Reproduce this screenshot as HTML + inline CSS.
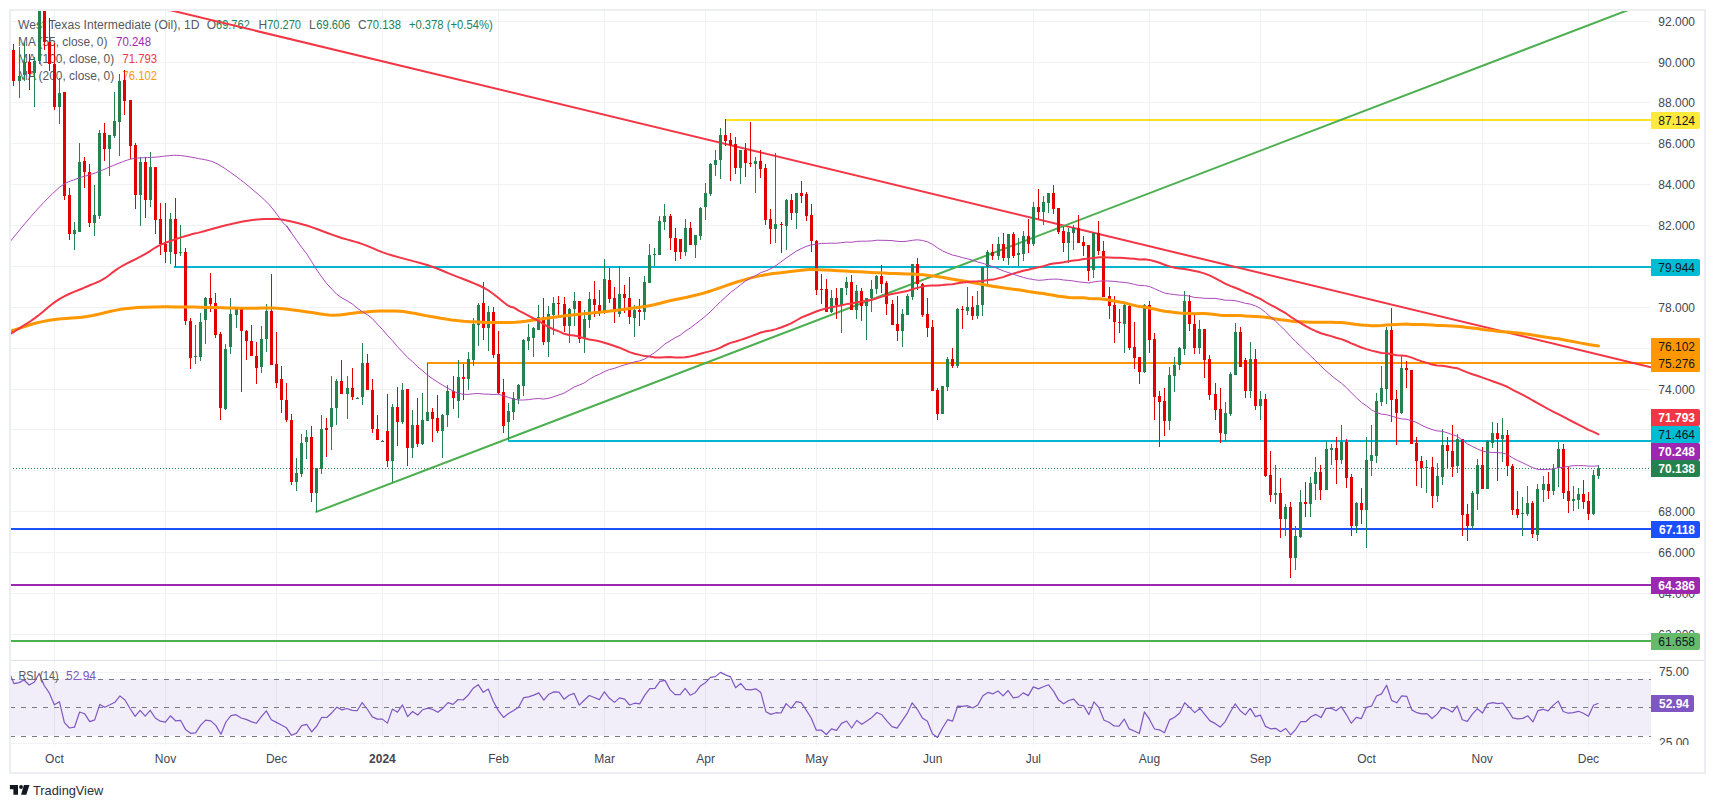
<!DOCTYPE html><html><head><meta charset="utf-8"><style>html,body{margin:0;padding:0;background:#fff;width:1715px;height:808px;overflow:hidden}</style></head><body><svg width="1715" height="808" viewBox="0 0 1715 808" style="display:block;font-family:'Liberation Sans', sans-serif"><rect width="1715" height="808" fill="#ffffff"/><defs><clipPath id="cp"><rect x="11" y="11" width="1640" height="649"/></clipPath><clipPath id="cr"><rect x="11" y="661" width="1640" height="84"/></clipPath></defs><line x1="11" y1="634.5" x2="1651" y2="634.5" stroke="#f1f2f3" stroke-width="1"/><line x1="11" y1="593.5" x2="1651" y2="593.5" stroke="#f1f2f3" stroke-width="1"/><line x1="11" y1="552.5" x2="1651" y2="552.5" stroke="#f1f2f3" stroke-width="1"/><line x1="11" y1="511.5" x2="1651" y2="511.5" stroke="#f1f2f3" stroke-width="1"/><line x1="11" y1="470.5" x2="1651" y2="470.5" stroke="#f1f2f3" stroke-width="1"/><line x1="11" y1="429.5" x2="1651" y2="429.5" stroke="#f1f2f3" stroke-width="1"/><line x1="11" y1="389.5" x2="1651" y2="389.5" stroke="#f1f2f3" stroke-width="1"/><line x1="11" y1="348.5" x2="1651" y2="348.5" stroke="#f1f2f3" stroke-width="1"/><line x1="11" y1="307.5" x2="1651" y2="307.5" stroke="#f1f2f3" stroke-width="1"/><line x1="11" y1="266.5" x2="1651" y2="266.5" stroke="#f1f2f3" stroke-width="1"/><line x1="11" y1="225.5" x2="1651" y2="225.5" stroke="#f1f2f3" stroke-width="1"/><line x1="11" y1="184.5" x2="1651" y2="184.5" stroke="#f1f2f3" stroke-width="1"/><line x1="11" y1="143.5" x2="1651" y2="143.5" stroke="#f1f2f3" stroke-width="1"/><line x1="11" y1="102.5" x2="1651" y2="102.5" stroke="#f1f2f3" stroke-width="1"/><line x1="11" y1="62.5" x2="1651" y2="62.5" stroke="#f1f2f3" stroke-width="1"/><line x1="11" y1="21.5" x2="1651" y2="21.5" stroke="#f1f2f3" stroke-width="1"/><line x1="54.5" y1="11" x2="54.5" y2="745" stroke="#f1f2f3" stroke-width="1"/><line x1="165.5" y1="11" x2="165.5" y2="745" stroke="#f1f2f3" stroke-width="1"/><line x1="276.5" y1="11" x2="276.5" y2="745" stroke="#f1f2f3" stroke-width="1"/><line x1="382.5" y1="11" x2="382.5" y2="745" stroke="#f1f2f3" stroke-width="1"/><line x1="498.5" y1="11" x2="498.5" y2="745" stroke="#f1f2f3" stroke-width="1"/><line x1="604.5" y1="11" x2="604.5" y2="745" stroke="#f1f2f3" stroke-width="1"/><line x1="705.5" y1="11" x2="705.5" y2="745" stroke="#f1f2f3" stroke-width="1"/><line x1="816.5" y1="11" x2="816.5" y2="745" stroke="#f1f2f3" stroke-width="1"/><line x1="932.5" y1="11" x2="932.5" y2="745" stroke="#f1f2f3" stroke-width="1"/><line x1="1033.5" y1="11" x2="1033.5" y2="745" stroke="#f1f2f3" stroke-width="1"/><line x1="1149.5" y1="11" x2="1149.5" y2="745" stroke="#f1f2f3" stroke-width="1"/><line x1="1260.5" y1="11" x2="1260.5" y2="745" stroke="#f1f2f3" stroke-width="1"/><line x1="1366.5" y1="11" x2="1366.5" y2="745" stroke="#f1f2f3" stroke-width="1"/><line x1="1482.5" y1="11" x2="1482.5" y2="745" stroke="#f1f2f3" stroke-width="1"/><line x1="1588.5" y1="11" x2="1588.5" y2="745" stroke="#f1f2f3" stroke-width="1"/><line x1="11" y1="672.5" x2="1651" y2="672.5" stroke="#f1f2f3" stroke-width="1"/><line x1="11" y1="743.5" x2="1651" y2="743.5" stroke="#f1f2f3" stroke-width="1"/><rect x="11" y="679.0" width="1640" height="56.8" fill="#7e57c2" fill-opacity="0.1"/><line x1="10" y1="679.5" x2="1651" y2="679.5" stroke="#787b86" stroke-width="1" stroke-dasharray="5,6"/><line x1="10" y1="707.5" x2="1651" y2="707.5" stroke="#787b86" stroke-width="1" stroke-dasharray="5,6"/><line x1="10" y1="736.5" x2="1651" y2="736.5" stroke="#787b86" stroke-width="1" stroke-dasharray="5,6"/><line x1="10" y1="660.5" x2="1705" y2="660.5" stroke="#e0e3eb" stroke-width="1"/><rect x="10" y="10" width="1695" height="763" fill="none" stroke="#eceef3" stroke-width="2"/><text x="54.4" y="763" font-size="12" fill="#434651" text-anchor="middle" font-weight="normal">Oct</text><text x="165.5" y="763" font-size="12" fill="#434651" text-anchor="middle" font-weight="normal">Nov</text><text x="276.6" y="763" font-size="12" fill="#434651" text-anchor="middle" font-weight="normal">Dec</text><text x="382.4" y="763" font-size="12" fill="#434651" text-anchor="middle" font-weight="bold">2024</text><text x="498.5" y="763" font-size="12" fill="#434651" text-anchor="middle" font-weight="normal">Feb</text><text x="604.6" y="763" font-size="12" fill="#434651" text-anchor="middle" font-weight="normal">Mar</text><text x="705.6" y="763" font-size="12" fill="#434651" text-anchor="middle" font-weight="normal">Apr</text><text x="816.7" y="763" font-size="12" fill="#434651" text-anchor="middle" font-weight="normal">May</text><text x="932.8" y="763" font-size="12" fill="#434651" text-anchor="middle" font-weight="normal">Jun</text><text x="1033.3" y="763" font-size="12" fill="#434651" text-anchor="middle" font-weight="normal">Jul</text><text x="1149.4" y="763" font-size="12" fill="#434651" text-anchor="middle" font-weight="normal">Aug</text><text x="1260.5" y="763" font-size="12" fill="#434651" text-anchor="middle" font-weight="normal">Sep</text><text x="1366.5" y="763" font-size="12" fill="#434651" text-anchor="middle" font-weight="normal">Oct</text><text x="1482.2" y="763" font-size="12" fill="#434651" text-anchor="middle" font-weight="normal">Nov</text><text x="1588.4" y="763" font-size="12" fill="#434651" text-anchor="middle" font-weight="normal">Dec</text><text x="1695" y="638.5" font-size="12" fill="#434651" text-anchor="end">62.000</text><text x="1695" y="597.5" font-size="12" fill="#434651" text-anchor="end">64.000</text><text x="1695" y="556.5" font-size="12" fill="#434651" text-anchor="end">66.000</text><text x="1695" y="515.5" font-size="12" fill="#434651" text-anchor="end">68.000</text><text x="1695" y="393.5" font-size="12" fill="#434651" text-anchor="end">74.000</text><text x="1695" y="311.5" font-size="12" fill="#434651" text-anchor="end">78.000</text><text x="1695" y="229.5" font-size="12" fill="#434651" text-anchor="end">82.000</text><text x="1695" y="188.5" font-size="12" fill="#434651" text-anchor="end">84.000</text><text x="1695" y="147.5" font-size="12" fill="#434651" text-anchor="end">86.000</text><text x="1695" y="106.5" font-size="12" fill="#434651" text-anchor="end">88.000</text><text x="1695" y="66.5" font-size="12" fill="#434651" text-anchor="end">90.000</text><text x="1695" y="25.5" font-size="12" fill="#434651" text-anchor="end">92.000</text><text x="1689" y="676.2" font-size="12" fill="#434651" text-anchor="end">75.00</text><clipPath id="cra"><rect x="1651" y="661" width="53" height="84"/></clipPath><text x="1689" y="747.2" font-size="12" fill="#434651" text-anchor="end" clip-path="url(#cra)">25.00</text><text x="18" y="28.8" font-size="12" fill="#555861" textLength="181.5" lengthAdjust="spacingAndGlyphs">West Texas Intermediate (Oil), 1D</text><text x="206.8" y="28.8" font-size="12" fill="#555861">O</text><text x="216" y="28.8" font-size="12" fill="#22825a" textLength="33.8" lengthAdjust="spacingAndGlyphs">69.762</text><text x="258.5" y="28.8" font-size="12" fill="#555861">H</text><text x="267.2" y="28.8" font-size="12" fill="#22825a" textLength="33.8" lengthAdjust="spacingAndGlyphs">70.270</text><text x="309" y="28.8" font-size="12" fill="#555861">L</text><text x="316.3" y="28.8" font-size="12" fill="#22825a" textLength="34" lengthAdjust="spacingAndGlyphs">69.606</text><text x="357.9" y="28.8" font-size="12" fill="#555861">C</text><text x="366.6" y="28.8" font-size="12" fill="#22825a" textLength="34.3" lengthAdjust="spacingAndGlyphs">70.138</text><text x="408.9" y="28.8" font-size="12" fill="#22825a" textLength="83.8" lengthAdjust="spacingAndGlyphs">+0.378 (+0.54%)</text><text x="18" y="45.8" font-size="12" fill="#555861" textLength="89.4" lengthAdjust="spacingAndGlyphs">MA (55, close, 0)</text><text x="116.1" y="45.8" font-size="12" fill="#9c27b0" textLength="35" lengthAdjust="spacingAndGlyphs">70.248</text><text x="18" y="63" font-size="12" fill="#555861" textLength="96.2" lengthAdjust="spacingAndGlyphs">MA (100, close, 0)</text><text x="122.5" y="63" font-size="12" fill="#f23645" textLength="34.5" lengthAdjust="spacingAndGlyphs">71.793</text><text x="18" y="79.8" font-size="12" fill="#555861" textLength="96.2" lengthAdjust="spacingAndGlyphs">MA (200, close, 0)</text><text x="122.5" y="79.8" font-size="12" fill="#ff9800" textLength="34.5" lengthAdjust="spacingAndGlyphs">76.102</text><g clip-path="url(#cp)"><line x1="725" y1="120" x2="1651" y2="120" stroke="#ffe41f" stroke-width="2"/><line x1="174" y1="267" x2="1651" y2="267" stroke="#00b5d0" stroke-width="2"/><line x1="427" y1="363" x2="1651" y2="363" stroke="#ff9800" stroke-width="2"/><line x1="508" y1="441" x2="1651" y2="441" stroke="#00b5d0" stroke-width="2"/><line x1="10" y1="529" x2="1651" y2="529" stroke="#1c50ff" stroke-width="2"/><line x1="10" y1="585" x2="1651" y2="585" stroke="#9c27b0" stroke-width="2"/><line x1="10" y1="641" x2="1651" y2="641" stroke="#4caf50" stroke-width="2"/><line x1="150" y1="5.28" x2="1651" y2="367.17" stroke="#f23645" stroke-width="2"/><line x1="316.4" y1="511.9" x2="1660" y2="-2.16" stroke="#4caf50" stroke-width="2" stroke-linecap="round"/><line x1="13" y1="468.5" x2="1650" y2="468.5" stroke="#24824f" stroke-width="1" stroke-dasharray="1,2"/></g><g clip-path="url(#cp)"><rect x="13" y="44" width="1" height="42" fill="#e50000"/><rect x="12" y="50" width="3" height="31" fill="#e50000"/><rect x="19" y="47" width="1" height="51" fill="#24824f"/><rect x="18" y="76" width="3" height="5" fill="#24824f"/><rect x="24" y="42" width="1" height="39" fill="#24824f"/><rect x="23" y="62" width="3" height="13" fill="#24824f"/><rect x="29" y="54" width="1" height="36" fill="#e50000"/><rect x="28" y="62" width="3" height="12" fill="#e50000"/><rect x="34" y="57" width="1" height="50" fill="#24824f"/><rect x="33" y="61" width="3" height="12" fill="#24824f"/><rect x="39" y="5" width="1" height="59" fill="#24824f"/><rect x="38" y="10" width="3" height="51" fill="#24824f"/><rect x="44" y="5" width="1" height="45" fill="#e50000"/><rect x="43" y="10" width="3" height="32" fill="#e50000"/><rect x="49" y="18" width="1" height="53" fill="#e50000"/><rect x="48" y="42" width="3" height="22" fill="#e50000"/><rect x="54" y="43" width="1" height="67" fill="#e50000"/><rect x="53" y="64" width="3" height="43" fill="#e50000"/><rect x="59" y="78" width="1" height="46" fill="#24824f"/><rect x="58" y="93" width="3" height="14" fill="#24824f"/><rect x="64" y="92" width="1" height="108" fill="#e50000"/><rect x="63" y="92" width="3" height="104" fill="#e50000"/><rect x="69" y="188" width="1" height="52" fill="#e50000"/><rect x="68" y="195" width="3" height="39" fill="#e50000"/><rect x="74" y="222" width="1" height="28" fill="#24824f"/><rect x="73" y="230" width="3" height="4" fill="#24824f"/><rect x="79" y="143" width="1" height="89" fill="#24824f"/><rect x="78" y="162" width="3" height="70" fill="#24824f"/><rect x="84" y="157" width="1" height="31" fill="#e50000"/><rect x="83" y="161" width="3" height="11" fill="#e50000"/><rect x="89" y="164" width="1" height="63" fill="#e50000"/><rect x="88" y="172" width="3" height="51" fill="#e50000"/><rect x="94" y="185" width="1" height="51" fill="#24824f"/><rect x="93" y="215" width="3" height="8" fill="#24824f"/><rect x="99" y="130" width="1" height="89" fill="#24824f"/><rect x="98" y="133" width="3" height="83" fill="#24824f"/><rect x="104" y="123" width="1" height="38" fill="#e50000"/><rect x="103" y="133" width="3" height="16" fill="#e50000"/><rect x="109" y="135" width="1" height="41" fill="#24824f"/><rect x="108" y="135" width="3" height="14" fill="#24824f"/><rect x="114" y="92" width="1" height="46" fill="#24824f"/><rect x="113" y="121" width="3" height="15" fill="#24824f"/><rect x="119" y="74" width="1" height="82" fill="#24824f"/><rect x="118" y="81" width="3" height="41" fill="#24824f"/><rect x="124" y="70" width="1" height="45" fill="#e50000"/><rect x="123" y="80" width="3" height="21" fill="#e50000"/><rect x="130" y="100" width="1" height="59" fill="#e50000"/><rect x="129" y="100" width="3" height="46" fill="#e50000"/><rect x="135" y="143" width="1" height="66" fill="#e50000"/><rect x="134" y="145" width="3" height="50" fill="#e50000"/><rect x="140" y="157" width="1" height="69" fill="#24824f"/><rect x="139" y="162" width="3" height="33" fill="#24824f"/><rect x="145" y="157" width="1" height="61" fill="#e50000"/><rect x="144" y="162" width="3" height="38" fill="#e50000"/><rect x="150" y="152" width="1" height="55" fill="#24824f"/><rect x="149" y="167" width="3" height="33" fill="#24824f"/><rect x="155" y="167" width="1" height="67" fill="#e50000"/><rect x="154" y="167" width="3" height="53" fill="#e50000"/><rect x="160" y="203" width="1" height="52" fill="#e50000"/><rect x="159" y="219" width="3" height="25" fill="#e50000"/><rect x="165" y="203" width="1" height="60" fill="#e50000"/><rect x="164" y="244" width="3" height="8" fill="#e50000"/><rect x="170" y="213" width="1" height="51" fill="#24824f"/><rect x="169" y="219" width="3" height="33" fill="#24824f"/><rect x="175" y="198" width="1" height="69" fill="#e50000"/><rect x="174" y="219" width="3" height="35" fill="#e50000"/><rect x="180" y="225" width="1" height="31" fill="#24824f"/><rect x="179" y="252" width="3" height="1" fill="#24824f"/><rect x="185" y="248" width="1" height="77" fill="#e50000"/><rect x="184" y="252" width="3" height="69" fill="#e50000"/><rect x="190" y="318" width="1" height="51" fill="#e50000"/><rect x="189" y="321" width="3" height="37" fill="#e50000"/><rect x="195" y="325" width="1" height="39" fill="#24824f"/><rect x="194" y="356" width="3" height="1" fill="#24824f"/><rect x="200" y="313" width="1" height="48" fill="#24824f"/><rect x="199" y="322" width="3" height="35" fill="#24824f"/><rect x="205" y="297" width="1" height="47" fill="#24824f"/><rect x="204" y="298" width="3" height="22" fill="#24824f"/><rect x="210" y="273" width="1" height="39" fill="#e50000"/><rect x="209" y="298" width="3" height="6" fill="#e50000"/><rect x="215" y="293" width="1" height="45" fill="#e50000"/><rect x="214" y="303" width="3" height="32" fill="#e50000"/><rect x="220" y="332" width="1" height="88" fill="#e50000"/><rect x="219" y="334" width="3" height="74" fill="#e50000"/><rect x="225" y="344" width="1" height="66" fill="#24824f"/><rect x="224" y="349" width="3" height="60" fill="#24824f"/><rect x="230" y="298" width="1" height="56" fill="#24824f"/><rect x="229" y="314" width="3" height="33" fill="#24824f"/><rect x="236" y="308" width="1" height="20" fill="#24824f"/><rect x="235" y="309" width="3" height="6" fill="#24824f"/><rect x="241" y="307" width="1" height="85" fill="#e50000"/><rect x="240" y="309" width="3" height="22" fill="#e50000"/><rect x="246" y="330" width="1" height="30" fill="#e50000"/><rect x="245" y="331" width="3" height="10" fill="#e50000"/><rect x="251" y="325" width="1" height="31" fill="#e50000"/><rect x="250" y="341" width="3" height="15" fill="#e50000"/><rect x="256" y="342" width="1" height="42" fill="#e50000"/><rect x="255" y="356" width="3" height="12" fill="#e50000"/><rect x="261" y="326" width="1" height="47" fill="#24824f"/><rect x="260" y="339" width="3" height="28" fill="#24824f"/><rect x="266" y="304" width="1" height="48" fill="#24824f"/><rect x="265" y="311" width="3" height="28" fill="#24824f"/><rect x="271" y="274" width="1" height="91" fill="#e50000"/><rect x="270" y="311" width="3" height="54" fill="#e50000"/><rect x="276" y="332" width="1" height="56" fill="#e50000"/><rect x="275" y="364" width="3" height="19" fill="#e50000"/><rect x="281" y="366" width="1" height="47" fill="#e50000"/><rect x="280" y="379" width="3" height="21" fill="#e50000"/><rect x="286" y="383" width="1" height="39" fill="#e50000"/><rect x="285" y="400" width="3" height="20" fill="#e50000"/><rect x="291" y="414" width="1" height="71" fill="#e50000"/><rect x="290" y="420" width="3" height="62" fill="#e50000"/><rect x="296" y="458" width="1" height="33" fill="#24824f"/><rect x="295" y="473" width="3" height="9" fill="#24824f"/><rect x="301" y="434" width="1" height="43" fill="#24824f"/><rect x="300" y="443" width="3" height="31" fill="#24824f"/><rect x="306" y="430" width="1" height="29" fill="#24824f"/><rect x="305" y="437" width="3" height="5" fill="#24824f"/><rect x="311" y="426" width="1" height="76" fill="#e50000"/><rect x="310" y="437" width="3" height="56" fill="#e50000"/><rect x="316" y="468" width="1" height="44" fill="#24824f"/><rect x="315" y="468" width="3" height="25" fill="#24824f"/><rect x="321" y="415" width="1" height="59" fill="#24824f"/><rect x="320" y="429" width="3" height="40" fill="#24824f"/><rect x="326" y="418" width="1" height="39" fill="#e50000"/><rect x="325" y="428" width="3" height="2" fill="#e50000"/><rect x="331" y="376" width="1" height="74" fill="#24824f"/><rect x="330" y="408" width="3" height="19" fill="#24824f"/><rect x="336" y="379" width="1" height="46" fill="#24824f"/><rect x="335" y="381" width="3" height="27" fill="#24824f"/><rect x="341" y="360" width="1" height="34" fill="#e50000"/><rect x="340" y="381" width="3" height="13" fill="#e50000"/><rect x="347" y="376" width="1" height="43" fill="#24824f"/><rect x="346" y="388" width="3" height="6" fill="#24824f"/><rect x="352" y="368" width="1" height="32" fill="#e50000"/><rect x="351" y="388" width="3" height="9" fill="#e50000"/><rect x="357" y="397" width="1" height="2" fill="#24824f"/><rect x="356" y="398" width="3" height="1" fill="#24824f"/><rect x="362" y="343" width="1" height="62" fill="#24824f"/><rect x="361" y="363" width="3" height="34" fill="#24824f"/><rect x="367" y="354" width="1" height="36" fill="#e50000"/><rect x="366" y="363" width="3" height="27" fill="#e50000"/><rect x="372" y="379" width="1" height="54" fill="#e50000"/><rect x="371" y="390" width="3" height="39" fill="#e50000"/><rect x="377" y="415" width="1" height="25" fill="#e50000"/><rect x="376" y="429" width="3" height="11" fill="#e50000"/><rect x="382" y="440" width="1" height="2" fill="#24824f"/><rect x="381" y="441" width="3" height="1" fill="#24824f"/><rect x="387" y="394" width="1" height="73" fill="#e50000"/><rect x="386" y="431" width="3" height="30" fill="#e50000"/><rect x="392" y="404" width="1" height="78" fill="#24824f"/><rect x="391" y="407" width="3" height="54" fill="#24824f"/><rect x="397" y="387" width="1" height="59" fill="#e50000"/><rect x="396" y="407" width="3" height="15" fill="#e50000"/><rect x="402" y="383" width="1" height="41" fill="#24824f"/><rect x="401" y="390" width="3" height="32" fill="#24824f"/><rect x="407" y="389" width="1" height="77" fill="#e50000"/><rect x="406" y="389" width="3" height="59" fill="#e50000"/><rect x="412" y="410" width="1" height="48" fill="#24824f"/><rect x="411" y="425" width="3" height="23" fill="#24824f"/><rect x="417" y="398" width="1" height="49" fill="#e50000"/><rect x="416" y="425" width="3" height="19" fill="#e50000"/><rect x="422" y="393" width="1" height="52" fill="#24824f"/><rect x="421" y="420" width="3" height="24" fill="#24824f"/><rect x="427" y="363" width="1" height="58" fill="#24824f"/><rect x="426" y="412" width="3" height="9" fill="#24824f"/><rect x="432" y="408" width="1" height="34" fill="#e50000"/><rect x="431" y="412" width="3" height="7" fill="#e50000"/><rect x="437" y="395" width="1" height="38" fill="#e50000"/><rect x="436" y="418" width="3" height="13" fill="#e50000"/><rect x="442" y="414" width="1" height="44" fill="#24824f"/><rect x="441" y="415" width="3" height="16" fill="#24824f"/><rect x="447" y="385" width="1" height="42" fill="#24824f"/><rect x="446" y="391" width="3" height="24" fill="#24824f"/><rect x="453" y="376" width="1" height="33" fill="#e50000"/><rect x="452" y="391" width="3" height="7" fill="#e50000"/><rect x="458" y="360" width="1" height="58" fill="#24824f"/><rect x="457" y="377" width="3" height="24" fill="#24824f"/><rect x="463" y="364" width="1" height="36" fill="#e50000"/><rect x="462" y="377" width="3" height="2" fill="#e50000"/><rect x="468" y="352" width="1" height="38" fill="#24824f"/><rect x="467" y="359" width="3" height="20" fill="#24824f"/><rect x="473" y="318" width="1" height="48" fill="#24824f"/><rect x="472" y="324" width="3" height="36" fill="#24824f"/><rect x="478" y="303" width="1" height="43" fill="#24824f"/><rect x="477" y="305" width="3" height="20" fill="#24824f"/><rect x="483" y="282" width="1" height="58" fill="#e50000"/><rect x="482" y="303" width="3" height="25" fill="#e50000"/><rect x="488" y="306" width="1" height="45" fill="#24824f"/><rect x="487" y="312" width="3" height="16" fill="#24824f"/><rect x="493" y="307" width="1" height="51" fill="#e50000"/><rect x="492" y="312" width="3" height="43" fill="#e50000"/><rect x="498" y="331" width="1" height="63" fill="#e50000"/><rect x="497" y="354" width="3" height="39" fill="#e50000"/><rect x="503" y="379" width="1" height="54" fill="#e50000"/><rect x="502" y="392" width="3" height="34" fill="#e50000"/><rect x="508" y="403" width="1" height="37" fill="#24824f"/><rect x="507" y="411" width="3" height="11" fill="#24824f"/><rect x="513" y="392" width="1" height="28" fill="#24824f"/><rect x="512" y="398" width="3" height="14" fill="#24824f"/><rect x="518" y="384" width="1" height="20" fill="#24824f"/><rect x="517" y="385" width="3" height="14" fill="#24824f"/><rect x="523" y="339" width="1" height="57" fill="#24824f"/><rect x="522" y="340" width="3" height="46" fill="#24824f"/><rect x="528" y="324" width="1" height="26" fill="#24824f"/><rect x="527" y="337" width="3" height="4" fill="#24824f"/><rect x="533" y="327" width="1" height="30" fill="#24824f"/><rect x="532" y="328" width="3" height="10" fill="#24824f"/><rect x="538" y="305" width="1" height="25" fill="#24824f"/><rect x="537" y="317" width="3" height="13" fill="#24824f"/><rect x="543" y="298" width="1" height="47" fill="#e50000"/><rect x="542" y="317" width="3" height="25" fill="#e50000"/><rect x="548" y="306" width="1" height="51" fill="#24824f"/><rect x="547" y="314" width="3" height="28" fill="#24824f"/><rect x="553" y="297" width="1" height="38" fill="#24824f"/><rect x="552" y="303" width="3" height="12" fill="#24824f"/><rect x="558" y="296" width="1" height="19" fill="#e50000"/><rect x="557" y="303" width="3" height="1" fill="#e50000"/><rect x="564" y="297" width="1" height="35" fill="#e50000"/><rect x="563" y="304" width="3" height="22" fill="#e50000"/><rect x="569" y="308" width="1" height="35" fill="#24824f"/><rect x="568" y="309" width="3" height="17" fill="#24824f"/><rect x="574" y="292" width="1" height="34" fill="#24824f"/><rect x="573" y="301" width="3" height="8" fill="#24824f"/><rect x="579" y="301" width="1" height="42" fill="#e50000"/><rect x="578" y="301" width="3" height="38" fill="#e50000"/><rect x="584" y="310" width="1" height="43" fill="#24824f"/><rect x="583" y="319" width="3" height="20" fill="#24824f"/><rect x="589" y="292" width="1" height="36" fill="#24824f"/><rect x="588" y="299" width="3" height="21" fill="#24824f"/><rect x="594" y="281" width="1" height="36" fill="#e50000"/><rect x="593" y="299" width="3" height="6" fill="#e50000"/><rect x="599" y="290" width="1" height="26" fill="#e50000"/><rect x="598" y="305" width="3" height="7" fill="#e50000"/><rect x="604" y="259" width="1" height="55" fill="#24824f"/><rect x="603" y="279" width="3" height="33" fill="#24824f"/><rect x="609" y="268" width="1" height="35" fill="#e50000"/><rect x="608" y="280" width="3" height="19" fill="#e50000"/><rect x="614" y="287" width="1" height="36" fill="#e50000"/><rect x="613" y="298" width="3" height="14" fill="#e50000"/><rect x="619" y="266" width="1" height="51" fill="#24824f"/><rect x="618" y="294" width="3" height="20" fill="#24824f"/><rect x="624" y="285" width="1" height="28" fill="#e50000"/><rect x="623" y="294" width="3" height="4" fill="#e50000"/><rect x="629" y="277" width="1" height="47" fill="#e50000"/><rect x="628" y="298" width="3" height="19" fill="#e50000"/><rect x="634" y="305" width="1" height="32" fill="#24824f"/><rect x="633" y="310" width="3" height="8" fill="#24824f"/><rect x="639" y="299" width="1" height="27" fill="#e50000"/><rect x="638" y="310" width="3" height="2" fill="#e50000"/><rect x="644" y="276" width="1" height="44" fill="#24824f"/><rect x="643" y="282" width="3" height="30" fill="#24824f"/><rect x="649" y="244" width="1" height="39" fill="#24824f"/><rect x="648" y="255" width="3" height="28" fill="#24824f"/><rect x="654" y="248" width="1" height="18" fill="#24824f"/><rect x="653" y="254" width="3" height="1" fill="#24824f"/><rect x="659" y="216" width="1" height="39" fill="#24824f"/><rect x="658" y="221" width="3" height="34" fill="#24824f"/><rect x="664" y="204" width="1" height="26" fill="#24824f"/><rect x="663" y="216" width="3" height="6" fill="#24824f"/><rect x="670" y="214" width="1" height="36" fill="#e50000"/><rect x="669" y="216" width="3" height="22" fill="#e50000"/><rect x="675" y="228" width="1" height="33" fill="#e50000"/><rect x="674" y="238" width="3" height="14" fill="#e50000"/><rect x="680" y="239" width="1" height="20" fill="#e50000"/><rect x="679" y="239" width="3" height="13" fill="#e50000"/><rect x="685" y="219" width="1" height="37" fill="#24824f"/><rect x="684" y="228" width="3" height="24" fill="#24824f"/><rect x="690" y="222" width="1" height="23" fill="#e50000"/><rect x="689" y="228" width="3" height="17" fill="#e50000"/><rect x="695" y="235" width="1" height="23" fill="#24824f"/><rect x="694" y="235" width="3" height="10" fill="#24824f"/><rect x="700" y="207" width="1" height="33" fill="#24824f"/><rect x="699" y="208" width="3" height="28" fill="#24824f"/><rect x="705" y="183" width="1" height="37" fill="#24824f"/><rect x="704" y="193" width="3" height="14" fill="#24824f"/><rect x="710" y="163" width="1" height="33" fill="#24824f"/><rect x="709" y="164" width="3" height="30" fill="#24824f"/><rect x="715" y="150" width="1" height="26" fill="#24824f"/><rect x="714" y="160" width="3" height="5" fill="#24824f"/><rect x="720" y="128" width="1" height="51" fill="#24824f"/><rect x="719" y="135" width="3" height="25" fill="#24824f"/><rect x="725" y="119" width="1" height="27" fill="#e50000"/><rect x="724" y="135" width="3" height="6" fill="#e50000"/><rect x="730" y="133" width="1" height="48" fill="#e50000"/><rect x="729" y="140" width="3" height="5" fill="#e50000"/><rect x="735" y="137" width="1" height="37" fill="#e50000"/><rect x="734" y="144" width="3" height="24" fill="#e50000"/><rect x="740" y="150" width="1" height="34" fill="#24824f"/><rect x="739" y="150" width="3" height="18" fill="#24824f"/><rect x="745" y="143" width="1" height="34" fill="#e50000"/><rect x="744" y="150" width="3" height="13" fill="#e50000"/><rect x="750" y="122" width="1" height="45" fill="#e50000"/><rect x="749" y="163" width="3" height="1" fill="#e50000"/><rect x="755" y="157" width="1" height="36" fill="#24824f"/><rect x="754" y="161" width="3" height="3" fill="#24824f"/><rect x="760" y="150" width="1" height="28" fill="#e50000"/><rect x="759" y="161" width="3" height="8" fill="#e50000"/><rect x="765" y="164" width="1" height="61" fill="#e50000"/><rect x="764" y="168" width="3" height="52" fill="#e50000"/><rect x="770" y="209" width="1" height="35" fill="#e50000"/><rect x="769" y="219" width="3" height="10" fill="#e50000"/><rect x="775" y="153" width="1" height="90" fill="#24824f"/><rect x="774" y="224" width="3" height="5" fill="#24824f"/><rect x="781" y="222" width="1" height="31" fill="#e50000"/><rect x="780" y="224" width="3" height="1" fill="#e50000"/><rect x="786" y="199" width="1" height="51" fill="#24824f"/><rect x="785" y="200" width="3" height="26" fill="#24824f"/><rect x="791" y="194" width="1" height="26" fill="#e50000"/><rect x="790" y="200" width="3" height="13" fill="#e50000"/><rect x="796" y="193" width="1" height="36" fill="#24824f"/><rect x="795" y="193" width="3" height="20" fill="#24824f"/><rect x="801" y="181" width="1" height="22" fill="#e50000"/><rect x="800" y="193" width="3" height="3" fill="#e50000"/><rect x="806" y="192" width="1" height="29" fill="#e50000"/><rect x="805" y="194" width="3" height="22" fill="#e50000"/><rect x="811" y="204" width="1" height="48" fill="#e50000"/><rect x="810" y="215" width="3" height="26" fill="#e50000"/><rect x="816" y="240" width="1" height="55" fill="#e50000"/><rect x="815" y="241" width="3" height="49" fill="#e50000"/><rect x="821" y="274" width="1" height="30" fill="#e50000"/><rect x="820" y="289" width="3" height="1" fill="#e50000"/><rect x="826" y="279" width="1" height="33" fill="#e50000"/><rect x="825" y="289" width="3" height="23" fill="#e50000"/><rect x="831" y="290" width="1" height="23" fill="#24824f"/><rect x="830" y="298" width="3" height="14" fill="#24824f"/><rect x="836" y="288" width="1" height="31" fill="#e50000"/><rect x="835" y="298" width="3" height="7" fill="#e50000"/><rect x="841" y="288" width="1" height="45" fill="#24824f"/><rect x="840" y="288" width="3" height="17" fill="#24824f"/><rect x="846" y="277" width="1" height="18" fill="#24824f"/><rect x="845" y="282" width="3" height="6" fill="#24824f"/><rect x="851" y="275" width="1" height="35" fill="#e50000"/><rect x="850" y="282" width="3" height="28" fill="#e50000"/><rect x="856" y="285" width="1" height="34" fill="#24824f"/><rect x="855" y="291" width="3" height="19" fill="#24824f"/><rect x="861" y="288" width="1" height="33" fill="#e50000"/><rect x="860" y="291" width="3" height="15" fill="#e50000"/><rect x="866" y="298" width="1" height="42" fill="#24824f"/><rect x="865" y="298" width="3" height="8" fill="#24824f"/><rect x="871" y="280" width="1" height="32" fill="#24824f"/><rect x="870" y="289" width="3" height="9" fill="#24824f"/><rect x="876" y="275" width="1" height="19" fill="#24824f"/><rect x="875" y="276" width="3" height="13" fill="#24824f"/><rect x="881" y="265" width="1" height="28" fill="#e50000"/><rect x="880" y="276" width="3" height="8" fill="#e50000"/><rect x="886" y="281" width="1" height="34" fill="#e50000"/><rect x="885" y="283" width="3" height="21" fill="#e50000"/><rect x="892" y="300" width="1" height="25" fill="#e50000"/><rect x="891" y="304" width="3" height="21" fill="#e50000"/><rect x="897" y="296" width="1" height="45" fill="#e50000"/><rect x="896" y="324" width="3" height="7" fill="#e50000"/><rect x="902" y="309" width="1" height="38" fill="#24824f"/><rect x="901" y="314" width="3" height="17" fill="#24824f"/><rect x="907" y="294" width="1" height="21" fill="#24824f"/><rect x="906" y="296" width="3" height="19" fill="#24824f"/><rect x="912" y="264" width="1" height="36" fill="#24824f"/><rect x="911" y="264" width="3" height="33" fill="#24824f"/><rect x="917" y="258" width="1" height="32" fill="#e50000"/><rect x="916" y="264" width="3" height="20" fill="#e50000"/><rect x="922" y="283" width="1" height="34" fill="#e50000"/><rect x="921" y="284" width="3" height="31" fill="#e50000"/><rect x="927" y="298" width="1" height="39" fill="#e50000"/><rect x="926" y="314" width="3" height="14" fill="#e50000"/><rect x="932" y="320" width="1" height="71" fill="#e50000"/><rect x="931" y="327" width="3" height="64" fill="#e50000"/><rect x="937" y="388" width="1" height="32" fill="#e50000"/><rect x="936" y="390" width="3" height="24" fill="#e50000"/><rect x="942" y="386" width="1" height="28" fill="#24824f"/><rect x="941" y="386" width="3" height="28" fill="#24824f"/><rect x="947" y="357" width="1" height="34" fill="#24824f"/><rect x="946" y="359" width="3" height="28" fill="#24824f"/><rect x="952" y="348" width="1" height="20" fill="#e50000"/><rect x="951" y="359" width="3" height="7" fill="#e50000"/><rect x="957" y="308" width="1" height="60" fill="#24824f"/><rect x="956" y="309" width="3" height="57" fill="#24824f"/><rect x="962" y="306" width="1" height="23" fill="#e50000"/><rect x="961" y="309" width="3" height="1" fill="#e50000"/><rect x="967" y="287" width="1" height="28" fill="#24824f"/><rect x="966" y="307" width="3" height="4" fill="#24824f"/><rect x="972" y="296" width="1" height="24" fill="#e50000"/><rect x="971" y="307" width="3" height="9" fill="#e50000"/><rect x="977" y="291" width="1" height="28" fill="#24824f"/><rect x="976" y="305" width="3" height="11" fill="#24824f"/><rect x="982" y="267" width="1" height="49" fill="#24824f"/><rect x="981" y="267" width="3" height="38" fill="#24824f"/><rect x="987" y="250" width="1" height="34" fill="#24824f"/><rect x="986" y="252" width="3" height="15" fill="#24824f"/><rect x="992" y="244" width="1" height="16" fill="#e50000"/><rect x="991" y="252" width="3" height="4" fill="#e50000"/><rect x="998" y="237" width="1" height="23" fill="#24824f"/><rect x="997" y="244" width="3" height="12" fill="#24824f"/><rect x="1003" y="233" width="1" height="28" fill="#e50000"/><rect x="1002" y="244" width="3" height="14" fill="#e50000"/><rect x="1008" y="234" width="1" height="31" fill="#24824f"/><rect x="1007" y="234" width="3" height="24" fill="#24824f"/><rect x="1013" y="232" width="1" height="26" fill="#e50000"/><rect x="1012" y="234" width="3" height="22" fill="#e50000"/><rect x="1018" y="238" width="1" height="28" fill="#24824f"/><rect x="1017" y="253" width="3" height="2" fill="#24824f"/><rect x="1023" y="231" width="1" height="30" fill="#24824f"/><rect x="1022" y="236" width="3" height="18" fill="#24824f"/><rect x="1028" y="219" width="1" height="34" fill="#e50000"/><rect x="1027" y="236" width="3" height="8" fill="#e50000"/><rect x="1033" y="202" width="1" height="44" fill="#24824f"/><rect x="1032" y="207" width="3" height="37" fill="#24824f"/><rect x="1038" y="189" width="1" height="30" fill="#e50000"/><rect x="1037" y="207" width="3" height="5" fill="#e50000"/><rect x="1043" y="196" width="1" height="29" fill="#24824f"/><rect x="1042" y="202" width="3" height="10" fill="#24824f"/><rect x="1048" y="193" width="1" height="20" fill="#24824f"/><rect x="1047" y="193" width="3" height="10" fill="#24824f"/><rect x="1053" y="185" width="1" height="29" fill="#e50000"/><rect x="1052" y="193" width="3" height="16" fill="#e50000"/><rect x="1058" y="208" width="1" height="26" fill="#e50000"/><rect x="1057" y="208" width="3" height="24" fill="#e50000"/><rect x="1063" y="227" width="1" height="25" fill="#e50000"/><rect x="1062" y="231" width="3" height="12" fill="#e50000"/><rect x="1068" y="228" width="1" height="35" fill="#24824f"/><rect x="1067" y="232" width="3" height="11" fill="#24824f"/><rect x="1073" y="225" width="1" height="25" fill="#24824f"/><rect x="1072" y="228" width="3" height="5" fill="#24824f"/><rect x="1078" y="215" width="1" height="28" fill="#e50000"/><rect x="1077" y="228" width="3" height="15" fill="#e50000"/><rect x="1083" y="236" width="1" height="20" fill="#e50000"/><rect x="1082" y="242" width="3" height="4" fill="#e50000"/><rect x="1088" y="245" width="1" height="36" fill="#e50000"/><rect x="1087" y="245" width="3" height="26" fill="#e50000"/><rect x="1093" y="232" width="1" height="46" fill="#24824f"/><rect x="1092" y="233" width="3" height="37" fill="#24824f"/><rect x="1098" y="221" width="1" height="34" fill="#e50000"/><rect x="1097" y="233" width="3" height="18" fill="#e50000"/><rect x="1103" y="241" width="1" height="56" fill="#e50000"/><rect x="1102" y="251" width="3" height="46" fill="#e50000"/><rect x="1109" y="287" width="1" height="32" fill="#e50000"/><rect x="1108" y="296" width="3" height="10" fill="#e50000"/><rect x="1114" y="296" width="1" height="47" fill="#e50000"/><rect x="1113" y="305" width="3" height="17" fill="#e50000"/><rect x="1119" y="309" width="1" height="24" fill="#e50000"/><rect x="1118" y="322" width="3" height="1" fill="#e50000"/><rect x="1124" y="304" width="1" height="49" fill="#24824f"/><rect x="1123" y="305" width="3" height="19" fill="#24824f"/><rect x="1129" y="304" width="1" height="46" fill="#e50000"/><rect x="1128" y="306" width="3" height="42" fill="#e50000"/><rect x="1134" y="322" width="1" height="47" fill="#e50000"/><rect x="1133" y="347" width="3" height="11" fill="#e50000"/><rect x="1139" y="357" width="1" height="27" fill="#e50000"/><rect x="1138" y="357" width="3" height="15" fill="#e50000"/><rect x="1144" y="304" width="1" height="69" fill="#24824f"/><rect x="1143" y="305" width="3" height="67" fill="#24824f"/><rect x="1149" y="301" width="1" height="52" fill="#e50000"/><rect x="1148" y="305" width="3" height="35" fill="#e50000"/><rect x="1154" y="333" width="1" height="87" fill="#e50000"/><rect x="1153" y="339" width="3" height="58" fill="#e50000"/><rect x="1159" y="391" width="1" height="56" fill="#e50000"/><rect x="1158" y="396" width="3" height="6" fill="#e50000"/><rect x="1164" y="388" width="1" height="48" fill="#e50000"/><rect x="1163" y="401" width="3" height="20" fill="#e50000"/><rect x="1169" y="367" width="1" height="63" fill="#24824f"/><rect x="1168" y="375" width="3" height="46" fill="#24824f"/><rect x="1174" y="357" width="1" height="35" fill="#24824f"/><rect x="1173" y="365" width="3" height="11" fill="#24824f"/><rect x="1179" y="347" width="1" height="23" fill="#24824f"/><rect x="1178" y="348" width="3" height="17" fill="#24824f"/><rect x="1184" y="291" width="1" height="64" fill="#24824f"/><rect x="1183" y="301" width="3" height="48" fill="#24824f"/><rect x="1189" y="295" width="1" height="36" fill="#e50000"/><rect x="1188" y="301" width="3" height="23" fill="#e50000"/><rect x="1194" y="315" width="1" height="39" fill="#e50000"/><rect x="1193" y="324" width="3" height="24" fill="#e50000"/><rect x="1199" y="320" width="1" height="34" fill="#24824f"/><rect x="1198" y="329" width="3" height="19" fill="#24824f"/><rect x="1204" y="329" width="1" height="49" fill="#e50000"/><rect x="1203" y="329" width="3" height="31" fill="#e50000"/><rect x="1209" y="355" width="1" height="45" fill="#e50000"/><rect x="1208" y="359" width="3" height="36" fill="#e50000"/><rect x="1215" y="383" width="1" height="37" fill="#e50000"/><rect x="1214" y="394" width="3" height="16" fill="#e50000"/><rect x="1220" y="388" width="1" height="55" fill="#e50000"/><rect x="1219" y="409" width="3" height="24" fill="#e50000"/><rect x="1225" y="402" width="1" height="39" fill="#24824f"/><rect x="1224" y="413" width="3" height="21" fill="#24824f"/><rect x="1230" y="372" width="1" height="44" fill="#24824f"/><rect x="1229" y="374" width="3" height="40" fill="#24824f"/><rect x="1235" y="323" width="1" height="52" fill="#24824f"/><rect x="1234" y="332" width="3" height="43" fill="#24824f"/><rect x="1240" y="327" width="1" height="40" fill="#e50000"/><rect x="1239" y="332" width="3" height="35" fill="#e50000"/><rect x="1245" y="358" width="1" height="40" fill="#e50000"/><rect x="1244" y="360" width="3" height="31" fill="#e50000"/><rect x="1250" y="342" width="1" height="56" fill="#24824f"/><rect x="1249" y="359" width="3" height="32" fill="#24824f"/><rect x="1255" y="349" width="1" height="61" fill="#e50000"/><rect x="1254" y="359" width="3" height="47" fill="#e50000"/><rect x="1260" y="391" width="1" height="29" fill="#24824f"/><rect x="1259" y="399" width="3" height="7" fill="#24824f"/><rect x="1265" y="394" width="1" height="83" fill="#e50000"/><rect x="1264" y="399" width="3" height="77" fill="#e50000"/><rect x="1270" y="451" width="1" height="51" fill="#e50000"/><rect x="1269" y="475" width="3" height="20" fill="#e50000"/><rect x="1275" y="465" width="1" height="39" fill="#24824f"/><rect x="1274" y="493" width="3" height="2" fill="#24824f"/><rect x="1280" y="478" width="1" height="60" fill="#e50000"/><rect x="1279" y="493" width="3" height="26" fill="#e50000"/><rect x="1285" y="504" width="1" height="32" fill="#24824f"/><rect x="1284" y="507" width="3" height="12" fill="#24824f"/><rect x="1290" y="502" width="1" height="76" fill="#e50000"/><rect x="1289" y="507" width="3" height="51" fill="#e50000"/><rect x="1295" y="526" width="1" height="44" fill="#24824f"/><rect x="1294" y="536" width="3" height="22" fill="#24824f"/><rect x="1300" y="490" width="1" height="48" fill="#24824f"/><rect x="1299" y="502" width="3" height="35" fill="#24824f"/><rect x="1305" y="482" width="1" height="35" fill="#e50000"/><rect x="1304" y="502" width="3" height="2" fill="#e50000"/><rect x="1310" y="477" width="1" height="40" fill="#24824f"/><rect x="1309" y="483" width="3" height="21" fill="#24824f"/><rect x="1315" y="457" width="1" height="43" fill="#24824f"/><rect x="1314" y="472" width="3" height="12" fill="#24824f"/><rect x="1320" y="465" width="1" height="35" fill="#e50000"/><rect x="1319" y="472" width="3" height="18" fill="#e50000"/><rect x="1326" y="441" width="1" height="49" fill="#24824f"/><rect x="1325" y="449" width="3" height="41" fill="#24824f"/><rect x="1331" y="444" width="1" height="21" fill="#24824f"/><rect x="1330" y="448" width="3" height="2" fill="#24824f"/><rect x="1336" y="437" width="1" height="47" fill="#e50000"/><rect x="1335" y="448" width="3" height="12" fill="#e50000"/><rect x="1341" y="425" width="1" height="39" fill="#24824f"/><rect x="1340" y="442" width="3" height="18" fill="#24824f"/><rect x="1346" y="439" width="1" height="49" fill="#e50000"/><rect x="1345" y="442" width="3" height="36" fill="#e50000"/><rect x="1351" y="474" width="1" height="62" fill="#e50000"/><rect x="1350" y="477" width="3" height="49" fill="#e50000"/><rect x="1356" y="502" width="1" height="31" fill="#24824f"/><rect x="1355" y="503" width="3" height="23" fill="#24824f"/><rect x="1361" y="488" width="1" height="36" fill="#e50000"/><rect x="1360" y="503" width="3" height="7" fill="#e50000"/><rect x="1366" y="437" width="1" height="111" fill="#24824f"/><rect x="1365" y="460" width="3" height="50" fill="#24824f"/><rect x="1371" y="425" width="1" height="51" fill="#24824f"/><rect x="1370" y="455" width="3" height="6" fill="#24824f"/><rect x="1376" y="393" width="1" height="70" fill="#24824f"/><rect x="1375" y="401" width="3" height="55" fill="#24824f"/><rect x="1381" y="366" width="1" height="40" fill="#24824f"/><rect x="1380" y="388" width="3" height="14" fill="#24824f"/><rect x="1386" y="327" width="1" height="77" fill="#24824f"/><rect x="1385" y="330" width="3" height="59" fill="#24824f"/><rect x="1391" y="308" width="1" height="114" fill="#e50000"/><rect x="1390" y="330" width="3" height="70" fill="#e50000"/><rect x="1396" y="390" width="1" height="55" fill="#e50000"/><rect x="1395" y="399" width="3" height="14" fill="#e50000"/><rect x="1401" y="355" width="1" height="59" fill="#24824f"/><rect x="1400" y="368" width="3" height="45" fill="#24824f"/><rect x="1406" y="361" width="1" height="27" fill="#e50000"/><rect x="1405" y="368" width="3" height="2" fill="#e50000"/><rect x="1411" y="370" width="1" height="74" fill="#e50000"/><rect x="1410" y="370" width="3" height="74" fill="#e50000"/><rect x="1416" y="437" width="1" height="49" fill="#e50000"/><rect x="1415" y="443" width="3" height="18" fill="#e50000"/><rect x="1421" y="456" width="1" height="32" fill="#e50000"/><rect x="1420" y="461" width="3" height="7" fill="#e50000"/><rect x="1426" y="460" width="1" height="33" fill="#24824f"/><rect x="1425" y="467" width="3" height="1" fill="#24824f"/><rect x="1432" y="457" width="1" height="51" fill="#e50000"/><rect x="1431" y="467" width="3" height="29" fill="#e50000"/><rect x="1437" y="463" width="1" height="39" fill="#24824f"/><rect x="1436" y="476" width="3" height="20" fill="#24824f"/><rect x="1442" y="429" width="1" height="56" fill="#24824f"/><rect x="1441" y="445" width="3" height="32" fill="#24824f"/><rect x="1447" y="437" width="1" height="31" fill="#e50000"/><rect x="1446" y="445" width="3" height="6" fill="#e50000"/><rect x="1452" y="425" width="1" height="52" fill="#e50000"/><rect x="1451" y="451" width="3" height="16" fill="#e50000"/><rect x="1457" y="434" width="1" height="39" fill="#24824f"/><rect x="1456" y="439" width="3" height="27" fill="#24824f"/><rect x="1462" y="439" width="1" height="97" fill="#e50000"/><rect x="1461" y="439" width="3" height="76" fill="#e50000"/><rect x="1467" y="504" width="1" height="37" fill="#e50000"/><rect x="1466" y="514" width="3" height="12" fill="#e50000"/><rect x="1472" y="491" width="1" height="38" fill="#24824f"/><rect x="1471" y="493" width="3" height="33" fill="#24824f"/><rect x="1477" y="459" width="1" height="51" fill="#24824f"/><rect x="1476" y="465" width="3" height="29" fill="#24824f"/><rect x="1482" y="447" width="1" height="42" fill="#e50000"/><rect x="1481" y="465" width="3" height="24" fill="#e50000"/><rect x="1487" y="440" width="1" height="49" fill="#24824f"/><rect x="1486" y="441" width="3" height="48" fill="#24824f"/><rect x="1492" y="422" width="1" height="26" fill="#24824f"/><rect x="1491" y="433" width="3" height="10" fill="#24824f"/><rect x="1497" y="423" width="1" height="58" fill="#e50000"/><rect x="1496" y="433" width="3" height="6" fill="#e50000"/><rect x="1502" y="418" width="1" height="44" fill="#24824f"/><rect x="1501" y="435" width="3" height="4" fill="#24824f"/><rect x="1507" y="430" width="1" height="46" fill="#e50000"/><rect x="1506" y="435" width="3" height="31" fill="#e50000"/><rect x="1512" y="464" width="1" height="51" fill="#e50000"/><rect x="1511" y="466" width="3" height="44" fill="#e50000"/><rect x="1517" y="491" width="1" height="27" fill="#e50000"/><rect x="1516" y="509" width="3" height="6" fill="#e50000"/><rect x="1522" y="497" width="1" height="39" fill="#24824f"/><rect x="1521" y="513" width="3" height="1" fill="#24824f"/><rect x="1527" y="486" width="1" height="30" fill="#24824f"/><rect x="1526" y="503" width="3" height="11" fill="#24824f"/><rect x="1532" y="501" width="1" height="37" fill="#e50000"/><rect x="1531" y="503" width="3" height="31" fill="#e50000"/><rect x="1537" y="484" width="1" height="57" fill="#24824f"/><rect x="1536" y="489" width="3" height="46" fill="#24824f"/><rect x="1543" y="476" width="1" height="26" fill="#24824f"/><rect x="1542" y="484" width="3" height="6" fill="#24824f"/><rect x="1548" y="472" width="1" height="27" fill="#e50000"/><rect x="1547" y="484" width="3" height="7" fill="#e50000"/><rect x="1553" y="464" width="1" height="31" fill="#24824f"/><rect x="1552" y="468" width="3" height="23" fill="#24824f"/><rect x="1558" y="442" width="1" height="45" fill="#24824f"/><rect x="1557" y="449" width="3" height="19" fill="#24824f"/><rect x="1563" y="444" width="1" height="55" fill="#e50000"/><rect x="1562" y="449" width="3" height="44" fill="#e50000"/><rect x="1568" y="467" width="1" height="46" fill="#e50000"/><rect x="1567" y="491" width="3" height="10" fill="#e50000"/><rect x="1573" y="486" width="1" height="25" fill="#24824f"/><rect x="1572" y="499" width="3" height="2" fill="#24824f"/><rect x="1578" y="488" width="1" height="21" fill="#24824f"/><rect x="1577" y="494" width="3" height="6" fill="#24824f"/><rect x="1583" y="480" width="1" height="29" fill="#e50000"/><rect x="1582" y="494" width="3" height="8" fill="#e50000"/><rect x="1588" y="492" width="1" height="28" fill="#e50000"/><rect x="1587" y="501" width="3" height="13" fill="#e50000"/><rect x="1593" y="470" width="1" height="45" fill="#24824f"/><rect x="1592" y="475" width="3" height="39" fill="#24824f"/><rect x="1598" y="465" width="1" height="14" fill="#24824f"/><rect x="1597" y="468" width="3" height="8" fill="#24824f"/></g><g clip-path="url(#cp)" fill="none" stroke-linejoin="round" stroke-linecap="round"><polyline points="9.0,332.0 8.9,332.0 8.4,332.2 8.0,332.3 8.0,332.3 8.6,332.0 10.2,331.5 13.0,330.5 16.9,329.2 21.4,327.6 26.2,326.0 30.9,324.5 35.2,323.3 38.9,322.4 42.4,321.6 45.8,320.9 49.2,320.3 52.9,319.8 57.0,319.2 61.5,318.7 66.2,318.4 71.2,318.1 76.3,317.7 81.6,317.2 87.0,316.5 92.6,315.5 98.6,314.2 104.7,312.8 110.7,311.3 116.7,310.1 122.3,309.1 127.6,308.4 132.6,307.9 137.5,307.6 142.3,307.3 147.2,307.2 152.3,307.0 157.7,306.9 163.2,306.8 168.8,306.8 174.4,306.9 179.8,306.9 185.0,307.0 189.8,307.1 194.3,307.1 198.6,307.2 202.9,307.3 207.4,307.4 212.2,307.5 217.3,307.6 222.7,307.8 228.2,307.9 233.8,308.1 239.4,308.2 244.9,308.3 250.4,308.3 255.9,308.2 261.4,308.1 266.8,308.1 272.2,308.1 277.5,308.3 282.7,308.7 287.9,309.2 293.0,309.9 298.0,310.6 302.8,311.3 307.5,311.9 312.0,312.5 316.4,313.2 320.6,313.9 324.7,314.5 328.8,315.0 332.7,315.2 336.5,315.1 340.1,314.9 343.6,314.4 347.2,313.9 350.7,313.4 354.5,313.0 358.4,312.6 362.5,312.3 366.6,311.9 370.7,311.5 374.9,311.3 379.0,311.1 383.1,311.0 387.1,310.9 391.1,310.9 395.1,311.0 399.3,311.2 403.5,311.6 407.8,312.2 412.2,312.9 416.6,313.8 421.1,314.7 425.8,315.6 430.7,316.5 435.7,317.3 440.7,318.2 445.9,319.1 451.3,319.9 457.1,320.6 463.4,321.2 470.5,321.7 478.4,322.1 486.7,322.4 494.9,322.5 502.7,322.6 509.6,322.5 515.5,322.2 520.7,321.8 525.4,321.2 530.0,320.5 534.6,319.9 539.6,319.2 545.0,318.5 550.5,317.8 556.1,317.0 561.7,316.3 567.1,315.5 572.3,314.9 576.9,314.4 581.0,314.0 585.0,313.7 589.2,313.3 593.9,312.8 599.5,312.2 606.4,311.4 614.4,310.4 623.0,309.4 631.5,308.3 639.5,307.2 646.3,306.2 651.7,305.2 656.2,304.3 660.2,303.3 663.8,302.3 667.7,301.3 672.0,300.3 676.8,299.3 681.8,298.2 686.9,297.2 692.1,296.0 697.4,294.8 702.7,293.4 708.2,291.7 713.9,289.9 719.7,287.8 725.4,285.8 730.9,284.0 736.1,282.3 740.7,280.9 745.0,279.6 749.0,278.4 753.0,277.4 757.2,276.4 761.8,275.4 767.1,274.5 772.9,273.6 778.9,272.9 784.9,272.2 790.3,271.5 795.1,271.0 798.7,270.6 801.5,270.2 803.8,269.9 806.2,269.7 809.1,269.6 813.1,269.6 818.3,269.7 824.4,270.0 831.0,270.3 837.9,270.7 844.9,271.1 851.5,271.4 858.0,271.7 864.5,272.1 871.1,272.4 877.5,272.8 883.9,273.1 890.0,273.4 895.9,273.6 901.6,273.8 907.2,273.9 912.6,274.1 918.0,274.4 923.4,274.8 928.6,275.4 933.6,276.0 938.5,276.8 943.5,277.6 948.7,278.5 954.2,279.4 960.3,280.4 966.9,281.6 973.7,282.9 980.5,284.1 986.9,285.2 992.6,286.2 997.8,287.0 1002.8,287.8 1007.5,288.4 1011.7,289.0 1015.3,289.4 1018.2,289.8 1020.3,290.1 1021.6,290.3 1022.3,290.5 1022.7,290.5 1022.9,290.6 1018.2,289.8 1023.2,290.6 1028.3,291.5 1033.3,292.2 1038.4,292.9 1043.4,293.6 1048.5,294.5 1053.5,295.3 1058.6,296.2 1063.6,296.8 1068.7,297.5 1073.7,297.7 1078.8,297.7 1083.8,297.8 1088.9,298.4 1093.9,298.7 1098.9,298.8 1104.0,299.2 1109.0,300.1 1114.1,301.0 1119.1,301.9 1124.2,302.8 1129.2,304.1 1134.3,305.4 1139.3,306.6 1144.4,307.1 1149.4,308.0 1154.5,309.0 1159.5,310.2 1164.5,311.2 1169.6,311.8 1174.6,312.4 1179.7,313.0 1184.7,313.3 1189.8,313.6 1194.8,313.8 1199.9,313.6 1204.9,313.6 1210.0,314.0 1215.0,314.6 1220.1,315.2 1225.1,315.6 1230.2,315.4 1235.2,315.4 1240.2,315.6 1245.3,316.0 1250.3,316.2 1255.4,316.5 1260.4,316.7 1265.5,317.2 1270.5,318.0 1275.6,318.9 1280.6,319.7 1285.7,320.3 1290.7,321.1 1295.8,321.7 1300.8,321.8 1305.8,322.0 1310.9,322.2 1315.9,322.3 1321.0,322.3 1326.0,322.2 1331.1,322.3 1336.1,322.5 1341.2,322.6 1346.2,323.1 1351.3,323.8 1356.3,324.4 1361.4,324.9 1366.4,325.2 1371.5,325.7 1376.5,325.7 1381.5,325.5 1386.6,325.0 1391.6,324.8 1396.7,324.5 1401.7,324.3 1406.8,324.1 1411.8,324.4 1416.9,324.4 1421.9,324.6 1427.0,324.8 1432.0,325.1 1437.1,325.5 1442.1,325.6 1447.1,325.7 1452.2,326.0 1457.2,326.2 1462.3,326.8 1467.3,327.5 1472.4,328.1 1477.4,328.6 1482.5,329.4 1487.5,330.1 1492.6,330.6 1497.6,331.3 1502.7,331.7 1507.7,332.0 1512.7,332.5 1517.8,333.0 1522.8,333.6 1527.9,334.2 1532.9,335.1 1538.0,335.9 1543.0,336.7 1548.1,337.5 1553.1,338.2 1558.2,338.8 1563.2,339.8 1568.3,340.8 1573.3,341.6 1578.4,342.6 1583.4,343.6 1588.4,344.4 1593.5,345.2 1598.5,346.1" stroke="#ff9800" stroke-width="3"/><polyline points="9.0,334.6 8.9,334.7 8.4,335.1 8.0,335.4 8.0,335.5 8.6,335.2 10.2,334.2 13.0,332.4 16.8,330.0 21.2,327.2 26.0,324.1 30.8,321.0 35.2,317.9 39.3,314.8 43.3,311.5 47.3,308.1 51.3,304.8 55.5,301.6 59.7,298.8 64.2,296.3 69.0,294.0 73.9,291.9 78.6,290.0 83.1,288.2 87.0,286.5 90.4,285.0 93.2,283.9 95.8,282.8 98.3,281.8 100.7,280.6 103.3,279.2 105.9,277.5 108.4,275.7 110.9,273.7 113.6,271.6 116.4,269.6 119.6,267.5 123.3,265.4 127.5,263.2 131.8,261.0 136.2,258.8 140.4,256.7 144.1,254.7 147.2,252.9 149.9,251.2 152.3,249.5 154.7,248.0 157.4,246.4 160.5,244.9 164.2,243.3 168.3,241.8 172.6,240.2 176.9,238.8 181.1,237.4 185.0,236.2 188.5,235.2 191.6,234.3 194.7,233.6 197.7,232.9 200.7,232.1 204.0,231.3 207.5,230.3 211.1,229.3 214.7,228.3 218.4,227.2 222.1,226.2 225.8,225.3 229.5,224.4 233.2,223.6 236.9,222.7 240.5,222.0 244.1,221.3 247.6,220.7 251.0,220.2 254.2,219.8 257.4,219.5 260.6,219.3 263.6,219.1 266.6,219.0 269.4,218.9 272.0,218.9 274.5,218.9 277.0,219.1 279.8,219.3 283.0,219.8 286.5,220.4 290.3,221.2 294.4,222.2 298.6,223.2 303.0,224.5 307.5,225.8 312.3,227.4 317.5,229.2 322.8,231.2 328.1,233.2 333.3,235.1 338.1,236.8 342.5,238.2 346.7,239.4 350.7,240.5 354.7,241.6 358.6,242.8 362.6,244.1 366.5,245.6 370.2,247.1 373.8,248.7 377.7,250.4 382.1,252.1 387.1,253.9 393.2,255.7 400.1,257.6 407.6,259.6 415.0,261.6 421.9,263.5 428.0,265.3 432.9,267.0 437.1,268.5 440.8,270.0 444.3,271.5 448.1,273.1 452.5,274.9 457.6,276.9 463.2,279.0 469.0,281.3 474.7,283.6 480.2,286.0 485.1,288.5 489.5,291.2 493.7,294.2 497.6,297.3 501.2,300.3 504.3,302.8 506.9,304.8 508.9,306.0 510.3,306.7 511.3,307.0 512.0,307.1 512.7,307.2 513.6,307.5 514.6,308.0 515.6,308.6 516.5,309.2 517.4,309.8 518.1,310.2 513.6,307.5 518.6,310.6 523.7,313.2 528.7,315.9 533.7,318.5 538.8,321.0 543.8,324.4 548.9,327.1 553.9,329.5 559.0,331.4 564.0,333.8 569.1,334.9 574.1,335.6 579.2,336.6 584.2,338.2 589.3,339.5 594.3,340.3 599.4,341.3 604.4,342.7 609.4,344.2 614.5,346.0 619.5,347.7 624.6,349.9 629.6,352.1 634.7,353.7 639.7,354.9 644.8,356.1 649.8,356.6 654.9,357.5 659.9,357.5 665.0,357.3 670.0,357.1 675.0,357.4 680.1,357.4 685.1,357.2 690.2,356.4 695.2,355.2 700.3,353.7 705.3,352.4 710.4,351.1 715.4,349.6 720.5,347.6 725.5,345.0 730.6,342.9 735.6,341.5 740.7,339.9 745.7,338.2 750.7,336.4 755.8,334.5 760.8,332.5 765.9,331.3 770.9,330.5 776.0,329.1 781.0,327.5 786.1,325.5 791.1,323.4 796.2,320.5 801.2,317.7 806.3,315.5 811.3,313.5 816.3,311.5 821.4,309.7 826.4,308.5 831.5,307.2 836.5,306.2 841.6,305.3 846.6,304.1 851.7,303.4 856.7,302.3 861.8,301.4 866.8,300.7 871.9,299.7 876.9,298.2 881.9,296.6 887.0,295.3 892.0,293.9 897.1,293.1 902.1,292.1 907.2,291.1 912.2,289.3 917.3,287.9 922.3,286.6 927.4,285.7 932.4,285.5 937.5,285.4 942.5,285.0 947.6,284.4 952.6,284.2 957.6,283.3 962.7,282.6 967.7,281.9 972.8,281.5 977.8,281.3 982.9,280.9 987.9,280.1 993.0,279.6 998.0,278.4 1003.1,277.1 1008.1,275.2 1013.2,273.6 1018.2,272.2 1023.2,270.7 1028.3,269.7 1033.3,268.4 1038.4,267.3 1043.4,266.1 1048.5,264.6 1053.5,263.6 1058.6,262.9 1063.6,262.3 1068.7,261.3 1073.7,260.5 1078.8,259.9 1083.8,259.0 1088.9,258.5 1093.9,257.9 1098.9,257.3 1104.0,257.2 1109.0,257.4 1114.1,257.7 1119.1,257.8 1124.2,257.9 1129.2,258.4 1134.3,258.8 1139.3,259.4 1144.4,259.3 1149.4,259.9 1154.5,261.3 1159.5,262.8 1164.5,264.8 1169.6,266.4 1174.6,267.7 1179.7,268.6 1184.7,269.1 1189.8,270.1 1194.8,271.1 1199.9,272.1 1204.9,273.6 1210.0,275.6 1215.0,278.1 1220.1,280.8 1225.1,283.6 1230.2,285.9 1235.2,287.8 1240.2,289.8 1245.3,292.2 1250.3,294.1 1255.4,296.6 1260.4,298.9 1265.5,302.0 1270.5,304.8 1275.6,307.4 1280.6,310.4 1285.7,313.2 1290.7,316.8 1295.8,320.0 1300.8,323.1 1305.8,326.2 1310.9,328.9 1315.9,331.2 1321.0,333.2 1326.0,334.7 1331.1,336.1 1336.1,337.7 1341.2,339.1 1346.2,341.0 1351.3,343.4 1356.3,345.3 1361.4,347.5 1366.4,349.1 1371.5,350.6 1376.5,351.8 1381.5,352.9 1386.6,353.3 1391.6,354.3 1396.7,355.2 1401.7,355.6 1406.8,356.1 1411.8,357.6 1416.9,359.6 1421.9,361.4 1427.0,362.9 1432.0,364.6 1437.1,365.5 1442.1,365.8 1447.1,366.4 1452.2,367.5 1457.2,368.2 1462.3,370.3 1467.3,372.4 1472.4,374.3 1477.4,375.8 1482.5,377.6 1487.5,379.4 1492.6,381.2 1497.6,383.0 1502.7,384.9 1507.7,387.0 1512.7,389.8 1517.8,392.3 1522.8,394.9 1527.9,397.6 1532.9,400.5 1538.0,403.3 1543.0,406.1 1548.1,409.0 1553.1,411.7 1558.2,414.1 1563.2,416.7 1568.3,419.3 1573.3,422.0 1578.4,424.6 1583.4,427.2 1588.4,429.9 1593.5,431.9 1598.5,434.3" stroke="#f23645" stroke-width="2"/><polyline points="9.0,244.0 8.9,244.1 8.4,244.4 8.0,244.7 8.0,244.5 8.6,243.6 10.2,241.6 13.0,238.1 16.8,233.5 21.2,228.0 26.0,222.3 30.8,216.7 35.2,211.7 39.4,207.1 43.7,202.5 48.0,198.1 52.2,194.0 56.1,190.3 59.7,187.2 62.9,184.9 65.7,183.2 68.2,181.9 70.7,181.0 73.3,180.1 76.1,179.0 79.1,177.9 82.1,176.9 85.3,176.1 88.5,175.1 91.7,174.1 95.1,173.0 98.6,171.6 102.4,170.1 106.2,168.5 109.9,166.8 113.6,165.3 116.9,164.0 119.9,162.8 122.5,161.8 125.1,160.8 127.6,160.0 130.2,159.2 133.2,158.6 136.5,158.1 140.1,157.9 143.8,157.7 147.5,157.6 151.3,157.4 155.0,157.2 158.6,156.9 162.3,156.4 165.9,156.0 169.5,155.6 173.2,155.3 176.8,155.3 180.5,155.5 184.3,156.0 188.0,156.6 191.7,157.2 195.3,157.9 198.6,158.6 201.6,159.1 204.3,159.6 206.9,160.1 209.5,160.7 212.1,161.5 214.9,162.7 217.9,164.2 221.1,166.1 224.3,168.1 227.5,170.3 230.8,172.6 234.0,174.9 237.2,177.2 240.4,179.7 243.7,182.2 246.9,184.8 250.0,187.4 253.0,189.9 255.9,192.4 258.8,194.8 261.5,197.2 264.2,199.7 266.9,202.2 269.4,204.9 271.9,207.9 274.5,211.1 277.0,214.5 279.3,217.7 281.4,220.5 283.0,222.6 284.1,223.9 284.8,224.6 285.3,224.9 285.6,225.0 285.9,225.2 286.5,225.8 287.3,226.9 288.2,228.2 289.2,229.7 290.2,231.1 291.0,232.3 286.5,225.8 291.5,233.1 296.6,240.3 301.6,247.2 306.7,253.8 311.7,261.7 316.8,270.0 321.8,277.1 326.8,283.7 331.9,289.2 336.9,294.4 342.0,298.0 347.0,300.8 352.1,303.8 357.1,308.1 362.2,311.6 367.2,314.6 372.3,318.5 377.3,324.1 382.4,329.4 387.4,335.3 392.4,340.6 397.5,346.7 402.5,352.0 407.6,357.5 412.6,361.7 417.7,366.8 422.7,370.8 427.8,375.3 432.8,378.9 437.9,382.3 442.9,385.3 448.0,388.4 453.0,391.0 458.1,393.3 463.1,394.3 468.1,394.4 473.2,393.8 478.2,393.5 483.3,394.0 488.3,394.2 493.4,394.5 498.4,394.3 503.5,395.7 508.5,397.4 513.6,399.0 518.6,400.0 523.7,400.0 528.7,399.6 533.7,398.9 538.8,398.5 543.8,399.1 548.9,398.2 553.9,396.7 559.0,394.9 564.0,393.2 569.1,390.1 574.1,387.0 579.2,385.1 584.2,382.9 589.3,379.4 594.3,376.4 599.4,374.3 604.4,371.6 609.4,369.6 614.5,368.3 619.5,366.5 624.6,364.9 629.6,363.4 634.7,361.8 639.7,360.9 644.8,358.9 649.8,355.8 654.9,352.4 659.9,348.4 665.0,343.9 670.0,340.9 675.0,337.8 680.1,335.3 685.1,331.3 690.2,328.0 695.2,324.2 700.3,320.3 705.3,316.3 710.4,311.7 715.4,306.8 720.5,301.7 725.5,297.1 730.6,292.5 735.6,288.7 740.7,284.6 745.7,281.0 750.7,278.1 755.8,275.5 760.8,272.6 765.9,270.9 770.9,268.6 776.0,265.5 781.0,261.9 786.1,258.1 791.1,254.7 796.2,251.2 801.2,248.6 806.3,246.4 811.3,244.8 816.3,244.3 821.4,243.4 826.4,243.3 831.5,243.2 836.5,243.3 841.6,242.6 846.6,242.1 851.7,242.3 856.7,241.4 861.8,241.2 866.8,241.2 871.9,240.9 876.9,240.2 881.9,240.3 887.0,240.4 892.0,240.6 897.1,241.3 902.1,241.6 907.2,241.2 912.2,240.3 917.3,239.8 922.3,240.4 927.4,241.8 932.4,244.3 937.5,247.8 942.5,250.9 947.6,253.1 952.6,255.1 957.6,256.2 962.7,257.7 967.7,258.8 972.8,260.3 977.8,262.0 982.9,263.4 987.9,265.0 993.0,266.7 998.0,268.7 1003.1,270.8 1008.1,272.5 1013.2,274.1 1018.2,275.9 1023.2,277.3 1028.3,278.7 1033.3,279.5 1038.4,280.3 1043.4,280.0 1048.5,279.4 1053.5,279.1 1058.6,279.2 1063.6,280.0 1068.7,280.4 1073.7,281.0 1078.8,281.9 1083.8,282.4 1088.9,282.9 1093.9,281.9 1098.9,281.2 1104.0,280.9 1109.0,281.0 1114.1,281.4 1119.1,282.0 1124.2,282.4 1129.2,283.1 1134.3,284.3 1139.3,285.5 1144.4,285.6 1149.4,286.5 1154.5,288.7 1159.5,290.9 1164.5,293.0 1169.6,293.9 1174.6,294.6 1179.7,295.2 1184.7,295.3 1189.8,296.3 1194.8,297.5 1199.9,297.8 1204.9,298.3 1210.0,298.4 1215.0,298.3 1220.1,299.2 1225.1,300.2 1230.2,300.3 1235.2,300.7 1240.2,301.8 1245.3,303.3 1250.3,304.1 1255.4,305.9 1260.4,308.3 1265.5,312.4 1270.5,316.8 1275.6,321.3 1280.6,326.1 1285.7,331.0 1290.7,336.5 1295.8,341.7 1300.8,346.5 1305.8,351.2 1310.9,356.2 1315.9,361.0 1321.0,366.2 1326.0,370.9 1331.1,375.2 1336.1,379.3 1341.2,383.0 1346.2,387.4 1351.3,392.8 1356.3,397.6 1361.4,402.4 1366.4,405.8 1371.5,409.8 1376.5,412.6 1381.5,414.2 1386.6,414.7 1391.6,416.1 1396.7,417.7 1401.7,418.9 1406.8,419.3 1411.8,420.8 1416.9,422.5 1421.9,425.4 1427.0,427.7 1432.0,429.5 1437.1,430.9 1442.1,431.3 1447.1,432.7 1452.2,434.6 1457.2,436.2 1462.3,440.1 1467.3,443.8 1472.4,446.4 1477.4,448.9 1482.5,451.2 1487.5,452.0 1492.6,452.5 1497.6,452.6 1502.7,453.0 1507.7,454.7 1512.7,457.9 1517.8,460.6 1522.8,462.8 1527.9,465.4 1532.9,467.7 1538.0,469.4 1543.0,469.5 1548.1,469.4 1553.1,469.0 1558.2,467.7 1563.2,467.4 1568.3,466.4 1573.3,465.7 1578.4,465.6 1583.4,465.6 1588.4,466.1 1593.5,466.2 1598.5,465.8" stroke="#ab47bc" stroke-width="1"/></g><g clip-path="url(#cr)"><polyline fill="none" stroke="#7e57c2" stroke-width="1.2" stroke-linejoin="round" points="8.9,671.5 14.0,683.7 19.0,682.6 24.1,680.0 29.1,685.0 34.2,682.3 39.2,673.5 44.2,685.5 49.3,692.9 54.3,704.8 59.4,701.7 64.4,722.6 69.5,728.0 74.5,727.2 79.6,712.0 84.6,713.7 89.7,721.6 94.7,719.9 99.8,704.4 104.8,707.2 109.9,704.8 114.9,702.3 119.9,695.9 125.0,700.0 130.0,708.5 135.1,716.4 140.1,710.4 145.2,716.2 150.2,710.3 155.3,718.0 160.3,721.2 165.4,722.2 170.4,715.8 175.5,720.8 180.5,720.3 185.5,729.4 190.6,733.3 195.6,732.9 200.7,725.2 205.7,720.1 210.8,720.9 215.8,725.4 220.9,734.2 225.9,722.0 231.0,715.6 236.0,714.7 241.1,718.0 246.1,719.4 251.1,721.6 256.2,723.3 261.2,716.9 266.3,710.9 271.3,719.8 276.4,722.4 281.4,725.0 286.5,727.8 291.5,735.3 296.6,733.1 301.6,725.7 306.7,724.4 311.7,731.9 316.8,726.0 321.8,717.3 326.8,717.5 331.9,712.7 336.9,707.2 342.0,709.9 347.0,708.5 352.1,710.4 357.1,710.7 362.2,702.6 367.2,709.0 372.3,716.9 377.3,719.1 382.4,719.1 387.4,723.1 392.4,709.1 397.5,712.2 402.5,704.9 407.6,716.6 412.6,711.5 417.7,715.1 422.7,709.7 427.8,708.1 432.8,709.5 437.9,712.3 442.9,708.2 448.0,702.6 453.0,704.4 458.1,699.5 463.1,700.0 468.1,695.3 473.2,688.2 478.2,684.7 483.3,692.3 488.3,689.1 493.4,701.5 498.4,710.6 503.5,717.4 508.5,713.6 513.6,710.4 518.6,707.2 523.7,697.6 528.7,696.9 533.7,695.1 538.8,692.9 543.8,700.2 548.9,694.2 553.9,691.9 559.0,692.2 564.0,699.2 569.1,695.2 574.1,693.4 579.2,705.1 584.2,700.2 589.3,695.5 594.3,697.5 599.4,699.6 604.4,691.8 609.4,698.3 614.5,702.4 619.5,697.9 624.6,699.1 629.6,705.0 634.7,703.2 639.7,703.9 644.8,695.1 649.8,688.6 654.9,688.3 659.9,681.4 665.0,680.4 670.0,689.6 675.0,694.7 680.1,694.6 685.1,688.4 690.2,695.2 695.2,692.7 700.3,686.1 705.3,682.8 710.4,677.3 715.4,676.6 720.5,672.4 725.5,674.9 730.6,676.9 735.6,687.7 740.7,683.4 745.7,689.3 750.7,689.8 755.8,688.8 760.8,692.4 765.9,711.7 770.9,714.4 776.0,712.7 781.0,713.0 786.1,703.6 791.1,708.4 796.2,701.6 801.2,702.7 806.3,710.1 811.3,718.3 816.3,730.2 821.4,730.2 826.4,734.5 831.5,728.9 836.5,730.3 841.6,723.4 846.6,721.0 851.7,728.0 856.7,720.5 861.8,724.3 866.8,721.1 871.9,717.4 876.9,712.5 881.9,714.8 887.0,721.1 892.0,726.7 897.1,728.2 902.1,720.8 907.2,713.4 912.2,702.8 917.3,709.3 922.3,717.9 927.4,721.3 932.4,733.8 937.5,737.4 942.5,728.0 947.6,719.7 952.6,721.1 957.6,706.2 962.7,706.3 967.7,705.7 972.8,708.0 977.8,705.0 982.9,695.7 987.9,692.4 993.0,693.8 998.0,691.0 1003.1,695.9 1008.1,690.5 1013.2,697.9 1018.2,697.1 1023.2,692.9 1028.3,695.6 1033.3,686.9 1038.4,688.9 1043.4,686.7 1048.5,684.8 1053.5,691.1 1058.6,700.1 1063.6,703.8 1068.7,700.5 1073.7,699.1 1078.8,705.0 1083.8,705.9 1088.9,714.6 1093.9,701.9 1098.9,707.6 1104.0,720.2 1109.0,722.3 1114.1,726.0 1119.1,726.2 1124.2,719.1 1129.2,728.9 1134.3,731.0 1139.3,733.5 1144.4,711.8 1149.4,719.2 1154.5,729.0 1159.5,729.8 1164.5,732.7 1169.6,719.9 1174.6,717.2 1179.7,713.0 1184.7,702.7 1189.8,707.6 1194.8,712.6 1199.9,708.3 1204.9,714.6 1210.0,720.9 1215.0,723.4 1220.1,727.1 1225.1,721.8 1230.2,712.3 1235.2,703.8 1240.2,710.7 1245.3,714.9 1250.3,708.4 1255.4,716.6 1260.4,715.1 1265.5,726.4 1270.5,728.8 1275.6,728.3 1280.6,731.7 1285.7,728.5 1290.7,734.9 1295.8,729.3 1300.8,721.5 1305.8,721.7 1310.9,716.8 1315.9,714.4 1321.0,717.6 1326.0,708.4 1331.1,708.2 1336.1,710.7 1341.2,706.6 1346.2,714.3 1351.3,723.2 1356.3,717.4 1361.4,718.6 1366.4,707.3 1371.5,706.2 1376.5,696.0 1381.5,693.9 1386.6,685.2 1391.6,700.4 1396.7,702.8 1401.7,695.8 1406.8,696.4 1411.8,709.9 1416.9,712.7 1421.9,713.8 1427.0,713.6 1432.0,718.5 1437.1,714.1 1442.1,707.7 1447.1,709.0 1452.2,712.1 1457.2,706.0 1462.3,719.7 1467.3,721.4 1472.4,714.2 1477.4,708.7 1482.5,713.0 1487.5,703.9 1492.6,702.6 1497.6,703.7 1502.7,703.0 1507.7,709.8 1512.7,717.9 1517.8,718.8 1522.8,718.4 1527.9,715.8 1532.9,721.9 1538.0,710.6 1543.0,709.3 1548.1,710.9 1553.1,705.4 1558.2,701.1 1563.2,711.5 1568.3,713.2 1573.3,712.7 1578.4,711.3 1583.4,713.2 1588.4,716.3 1593.5,705.2 1598.5,703.2"/></g><path d="M1651,112 H1698 Q1700,112 1700,114 V127 Q1700,129 1698,129 H1651 Z" fill="#ffe93a"/><text x="1695" y="125" font-size="12" font-weight="normal" fill="#131722" text-anchor="end">87.124</text><path d="M1651,259 H1698 Q1700,259 1700,261 V274 Q1700,276 1698,276 H1651 Z" fill="#00bcd4"/><text x="1695" y="272" font-size="12" font-weight="normal" fill="#131722" text-anchor="end">79.944</text><path d="M1651,338 H1698 Q1700,338 1700,340 V370 Q1700,372 1698,372 H1651 Z" fill="#ff9800"/><path d="M1651,338 H1698 Q1700,338 1700,340 V353 Q1700,355 1698,355 H1651 Z" fill="#ff9800"/><text x="1695" y="351" font-size="12" font-weight="normal" fill="#131722" text-anchor="end">76.102</text><path d="M1651,355 H1698 Q1700,355 1700,357 V370 Q1700,372 1698,372 H1651 Z" fill="#ff9800"/><text x="1695" y="368" font-size="12" font-weight="normal" fill="#131722" text-anchor="end">75.276</text><path d="M1651,409 H1698 Q1700,409 1700,411 V424 Q1700,426 1698,426 H1651 Z" fill="#f23645"/><text x="1695" y="422" font-size="12" font-weight="bold" fill="#ffffff" text-anchor="end">71.793</text><path d="M1651,426 H1698 Q1700,426 1700,428 V441 Q1700,443 1698,443 H1651 Z" fill="#00bcd4"/><text x="1695" y="439" font-size="12" font-weight="normal" fill="#131722" text-anchor="end">71.464</text><path d="M1651,443 H1698 Q1700,443 1700,445 V458 Q1700,460 1698,460 H1651 Z" fill="#9c27b0"/><text x="1695" y="456" font-size="12" font-weight="bold" fill="#ffffff" text-anchor="end">70.248</text><path d="M1651,460 H1698 Q1700,460 1700,462 V475 Q1700,477 1698,477 H1651 Z" fill="#24824f"/><text x="1695" y="473" font-size="12" font-weight="bold" fill="#ffffff" text-anchor="end">70.138</text><path d="M1651,521 H1698 Q1700,521 1700,523 V536 Q1700,538 1698,538 H1651 Z" fill="#1c50ff"/><text x="1695" y="534" font-size="12" font-weight="bold" fill="#ffffff" text-anchor="end">67.118</text><path d="M1651,577 H1698 Q1700,577 1700,579 V592 Q1700,594 1698,594 H1651 Z" fill="#9c27b0"/><text x="1695" y="590" font-size="12" font-weight="bold" fill="#ffffff" text-anchor="end">64.386</text><path d="M1651,633 H1698 Q1700,633 1700,635 V648 Q1700,650 1698,650 H1651 Z" fill="#66bb6a"/><text x="1695" y="646" font-size="12" font-weight="normal" fill="#131722" text-anchor="end">61.658</text><path d="M1651,695 H1692 Q1694,695 1694,697 V710 Q1694,712 1692,712 H1651 Z" fill="#7e57c2"/><text x="1689" y="708" font-size="12" font-weight="bold" fill="#ffffff" text-anchor="end">52.94</text><text x="18.5" y="680" font-size="12" fill="#555861" textLength="40" lengthAdjust="spacingAndGlyphs">RSI (14)</text><text x="66" y="680" font-size="12" fill="#7e57c2">52.94</text><g fill="#131722"><polygon points="9.9,785 18,785 18,794.8 13.4,794.8 13.4,789.2 9.9,789.2"/><circle cx="21.05" cy="787" r="1.9"/><polygon points="23.9,785 29.5,785 26.3,794.8 21.1,794.8"/></g><text x="33" y="794.8" font-size="13" fill="#2a2e39" textLength="70.3" lengthAdjust="spacingAndGlyphs">TradingView</text></svg></body></html>
